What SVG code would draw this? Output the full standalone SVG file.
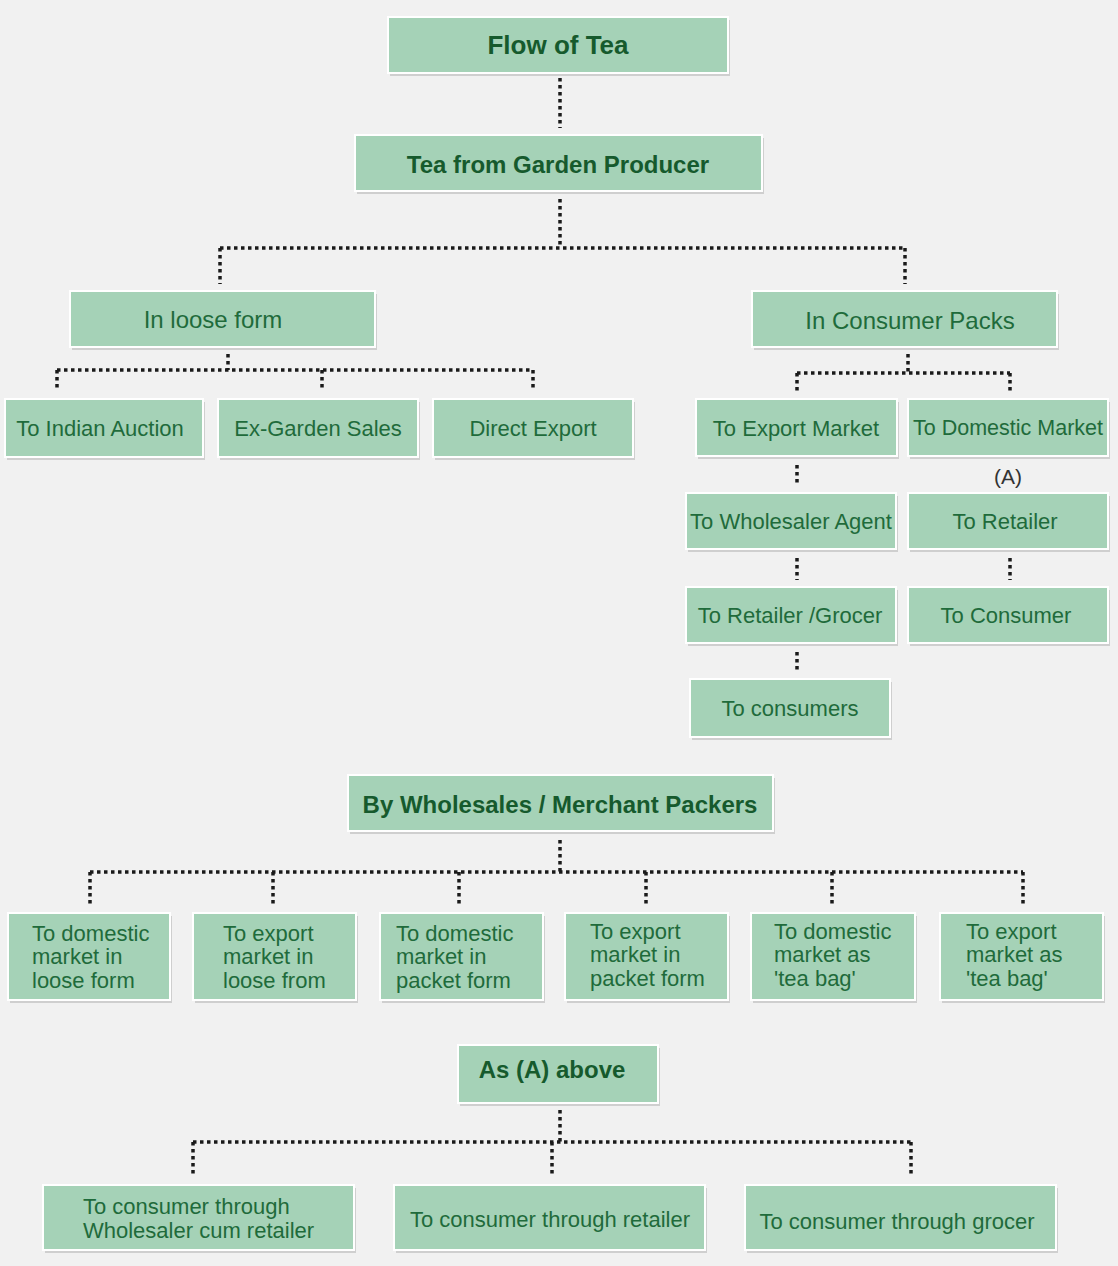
<svg xmlns="http://www.w3.org/2000/svg" width="1118" height="1266" viewBox="0 0 1118 1266">
<style>
.bg{fill:#f1f1f1}
.box{fill:#a5d2b7;stroke:#ffffff;stroke-width:2}
.sh{fill:#cfcfcf}
.t{font-family:"Liberation Sans",Arial,sans-serif;font-size:22px;fill:#1f6b3b;text-anchor:middle;dominant-baseline:central}
.tl{font-family:"Liberation Sans",Arial,sans-serif;font-size:22px;fill:#1f6b3b}
.b{font-family:"Liberation Sans",Arial,sans-serif;font-weight:bold;font-size:24px;fill:#165a2d;text-anchor:middle;dominant-baseline:central}
.c{fill:none;stroke:#1a1a1a;stroke-width:3.5;stroke-dasharray:3.5 3.5}
</style>
<rect class="bg" x="0" y="0" width="1118" height="1266"/>
<g id="connectors">
<path class="c" d="M560 78V128"/>
<path class="c" d="M560 199V248M220 248H905M220 248V284M905 248V284"/>
<path class="c" d="M228 354V370M57 370H533M57 370V391M322 370V391M533 370V391"/>
<path class="c" d="M908 354V373M797 373H1010M797 373V391M1010 373V391"/>
<path class="c" d="M797 465V486"/>
<path class="c" d="M797 558V580M1010 558V580"/>
<path class="c" d="M797 652V673"/>
<path class="c" d="M560 840V872M90 872H1023M90 872V906M273 872V906M459 872V906M646 872V906M832 872V906M1023 872V906"/>
<path class="c" d="M560 1110V1142M193 1142H911M193 1142V1177M552 1142V1177M911 1142V1177"/>
</g>
<g id="flow-of-tea"><rect class="sh" x="390" y="20" width="340" height="56"/><rect class="box" x="388" y="17" width="340" height="56"/><text class="b" x="558" y="45" style="font-size:26px">Flow of Tea</text></g>
<g id="garden"><rect class="sh" x="357" y="138" width="407" height="56"/><rect class="box" x="355" y="135" width="407" height="56"/><text class="b" x="558" y="164">Tea from Garden Producer</text></g>
<g id="loose"><rect class="sh" x="72" y="294" width="305" height="56"/><rect class="box" x="70" y="291" width="305" height="56"/><text class="t" x="213" y="319" style="font-size:24px">In loose form</text></g>
<g id="packs"><rect class="sh" x="754" y="294" width="305" height="56"/><rect class="box" x="752" y="291" width="305" height="56"/><text class="t" x="910" y="320" style="font-size:24px">In Consumer Packs</text></g>
<g id="auction"><rect class="sh" x="7" y="402" width="198" height="58"/><rect class="box" x="5" y="399" width="198" height="58"/><text class="t" x="100" y="428">To Indian Auction</text></g>
<g id="exgarden"><rect class="sh" x="220" y="402" width="200" height="58"/><rect class="box" x="218" y="399" width="200" height="58"/><text class="t" x="318" y="428">Ex-Garden Sales</text></g>
<g id="direct"><rect class="sh" x="435" y="402" width="200" height="58"/><rect class="box" x="433" y="399" width="200" height="58"/><text class="t" x="533" y="428">Direct Export</text></g>
<g id="export-market"><rect class="sh" x="698" y="402" width="201" height="57"/><rect class="box" x="696" y="399" width="201" height="57"/><text class="t" x="796" y="428">To Export Market</text></g>
<g id="domestic-market"><rect class="sh" x="910" y="402" width="200" height="57"/><rect class="box" x="908" y="399" width="200" height="57"/><text class="t" x="1008" y="428" style="font-size:21.5px">To Domestic Market</text></g>
<text class="t" x="1008" y="476" style="fill:#333333;font-size:21px">(A)</text>
<g id="wholesaler-agent"><rect class="sh" x="688" y="496" width="210" height="56"/><rect class="box" x="686" y="493" width="210" height="56"/><text class="t" x="791" y="521">To Wholesaler Agent</text></g>
<g id="retailer"><rect class="sh" x="910" y="496" width="200" height="56"/><rect class="box" x="908" y="493" width="200" height="56"/><text class="t" x="1005" y="521">To Retailer</text></g>
<g id="retailer-grocer"><rect class="sh" x="688" y="590" width="210" height="56"/><rect class="box" x="686" y="587" width="210" height="56"/><text class="t" x="790" y="615">To Retailer /Grocer</text></g>
<g id="consumer"><rect class="sh" x="910" y="590" width="200" height="56"/><rect class="box" x="908" y="587" width="200" height="56"/><text class="t" x="1006" y="615">To Consumer</text></g>
<g id="consumers"><rect class="sh" x="692" y="682" width="200" height="58"/><rect class="box" x="690" y="679" width="200" height="58"/><text class="t" x="790" y="708">To consumers</text></g>
<g id="wholesales"><rect class="sh" x="350" y="778" width="425" height="56"/><rect class="box" x="348" y="775" width="425" height="56"/><text class="b" x="560" y="804">By Wholesales / Merchant Packers</text></g>
<g id="w1"><rect class="sh" x="10" y="916" width="162" height="87"/><rect class="box" x="8" y="913" width="162" height="87"/><text class="tl" x="32" y="941">To domestic</text><text class="tl" x="32" y="964">market in</text><text class="tl" x="32" y="988">loose form</text></g>
<g id="w2"><rect class="sh" x="195" y="916" width="163" height="87"/><rect class="box" x="193" y="913" width="163" height="87"/><text class="tl" x="223" y="941">To export</text><text class="tl" x="223" y="964">market in</text><text class="tl" x="223" y="988">loose from</text></g>
<g id="w3"><rect class="sh" x="382" y="916" width="163" height="87"/><rect class="box" x="380" y="913" width="163" height="87"/><text class="tl" x="396" y="941">To domestic</text><text class="tl" x="396" y="964">market in</text><text class="tl" x="396" y="988">packet form</text></g>
<g id="w4"><rect class="sh" x="567" y="916" width="163" height="87"/><rect class="box" x="565" y="913" width="163" height="87"/><text class="tl" x="590" y="939">To export</text><text class="tl" x="590" y="962">market in</text><text class="tl" x="590" y="986">packet form</text></g>
<g id="w5"><rect class="sh" x="753" y="916" width="164" height="87"/><rect class="box" x="751" y="913" width="164" height="87"/><text class="tl" x="774" y="939">To domestic</text><text class="tl" x="774" y="962">market as</text><text class="tl" x="774" y="986">'tea bag'</text></g>
<g id="w6"><rect class="sh" x="942" y="916" width="163" height="87"/><rect class="box" x="940" y="913" width="163" height="87"/><text class="tl" x="966" y="939">To export</text><text class="tl" x="966" y="962">market as</text><text class="tl" x="966" y="986">'tea bag'</text></g>
<g id="as-a"><rect class="sh" x="460" y="1048" width="200" height="58"/><rect class="box" x="458" y="1045" width="200" height="58"/><text class="b" x="552" y="1069">As (A) above</text></g>
<g id="c1"><rect class="sh" x="45" y="1188" width="311" height="65"/><rect class="box" x="43" y="1185" width="311" height="65"/><text class="tl" x="83" y="1214">To consumer through</text><text class="tl" x="83" y="1238">Wholesaler cum retailer</text></g>
<g id="c2"><rect class="sh" x="396" y="1188" width="311" height="65"/><rect class="box" x="394" y="1185" width="311" height="65"/><text class="t" x="550" y="1219">To consumer through retailer</text></g>
<g id="c3"><rect class="sh" x="747" y="1188" width="311" height="65"/><rect class="box" x="745" y="1185" width="311" height="65"/><text class="t" x="897" y="1221">To consumer through grocer</text></g>
</svg>
